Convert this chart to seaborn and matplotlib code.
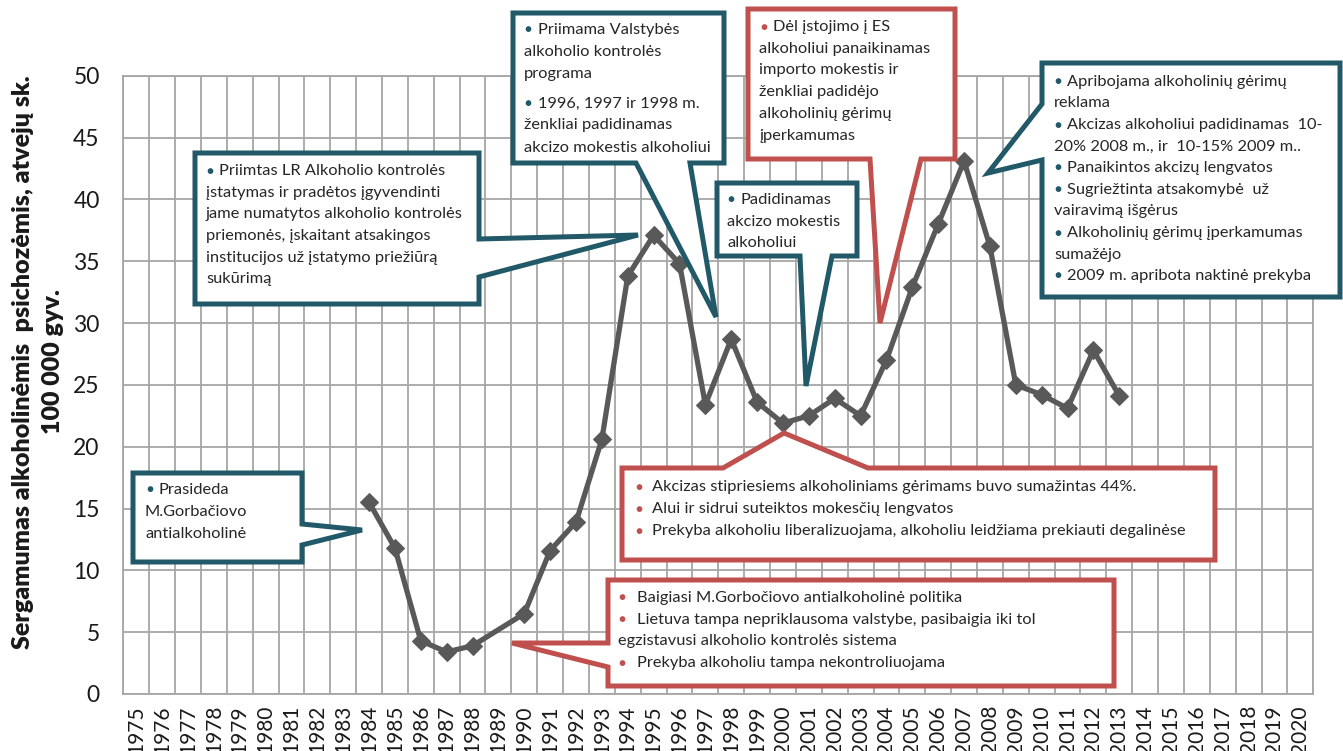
import numpy as np
import pandas as pd
import matplotlib
matplotlib.use("Agg")
import matplotlib.pyplot as plt
import seaborn as sns
from matplotlib.patches import Polygon
from matplotlib.transforms import Affine2D

# data (1989 has no point, line just joins 1988 and 1990)
years = [1984, 1985, 1986, 1987, 1988, 1990, 1991, 1992, 1993, 1994, 1995, 1996, 1997,
         1998, 1999, 2000, 2001, 2002, 2003, 2004, 2005, 2006, 2007, 2008, 2009, 2010,
         2011, 2012, 2013]
rate = [15.5, 11.8, 4.3, 3.4, 3.9, 6.5, 11.6, 13.9, 20.6, 33.8, 37.1, 34.8, 23.4,
        28.7, 23.6, 21.9, 22.5, 23.9, 22.5, 27.0, 32.9, 38.0, 43.1, 36.2, 25.0, 24.2,
        23.1, 27.8, 24.1]
axis_years = list(range(1975, 2021))
y_ticks = [0, 5, 10, 15, 20, 25, 30, 35, 40, 45, 50]
y_label = "Sergamumas alkoholinėmis  psichozėmis, atvejų sk.\n100 000 gyv."

txt_a = ["*Prasideda", "M.Gorbačiovo", "antialkoholinė"]
txt_b = ["*Priimtas LR Alkoholio kontrolės", "įstatymas ir pradėtos įgyvendinti",
         "jame numatytos alkoholio kontrolės", "priemonės, įskaitant atsakingos",
         "institucijos už įstatymo priežiūrą", "sukūrimą"]
txt_c = ["*Priimama Valstybės", "alkoholio kontrolės", "programa",
         "*1996, 1997 ir 1998 m.", "ženkliai padidinamas", "akcizo mokestis alkoholiui"]
txt_d = ["*Padidinamas", "akcizo mokestis", "alkoholiui"]
txt_e = ["*Dėl įstojimo į ES", "alkoholiui panaikinamas", "importo mokestis ir",
         "ženkliai padidėjo", "alkoholinių gėrimų", "įperkamumas"]
txt_f = ["*Apribojama alkoholinių gėrimų", "reklama",
         "*Akcizas alkoholiui padidinamas  10-", "20% 2008 m., ir  10-15% 2009 m..",
         "*Panaikintos akcizų lengvatos", "*Sugriežtinta atsakomybė  už",
         "vairavimą išgėrus", "*Alkoholinių gėrimų įperkamumas", "sumažėjo",
         "*2009 m. apribota naktinė prekyba"]
txt_g = ["*Akcizas stipriesiems alkoholiniams gėrimams buvo sumažintas 44%.",
         "*Alui ir sidrui suteiktos mokesčių lengvatos",
         "*Prekyba alkoholiu liberalizuojama, alkoholiu leidžiama prekiauti degalinėse"]
txt_h = ["*Baigiasi M.Gorbočiovo antialkoholinė politika",
         "*Lietuva tampa nepriklausoma valstybe, pasibaigia iki tol",
         "egzistavusi alkoholio kontrolės sistema",
         "*Prekyba alkoholiu tampa nekontroliuojama"]

df = pd.DataFrame({"year": years, "rate": rate})

W, H = 1343, 751
sns.set_theme(style="white")
plt.rcParams["font.family"] = ["Lato", "DejaVu Sans"]

fig = plt.figure(figsize=(W / 100, H / 100), dpi=100)
ax = fig.add_axes([123.3 / W, 1 - 694 / H, 1190 / W, (694 - 75.7) / H])
px = Affine2D().scale(1 / W, -1 / H).translate(0, 1) + fig.transFigure

grid_c = "#a6a6a6"
sns.lineplot(data=df, x="year", y="rate", ax=ax, color="#595959", linewidth=3.8,
             marker="D", markersize=9, markeredgecolor="#595959", zorder=3)

ax.set_xlim(1974.5, 2020.5)
ax.set_ylim(0, 50)
ax.set_xticks(axis_years)
ax.set_xticklabels([str(y) for y in axis_years], rotation=90, fontsize=15, color="#1a1a1a")
ax.set_xticks(np.arange(1974.5, 2021, 1), minor=True)
ax.set_yticks(y_ticks)
ax.set_yticklabels([str(v) for v in y_ticks], fontsize=16.5, color="#1a1a1a")
ax.tick_params(axis="both", which="both", length=0)
ax.tick_params(axis="y", pad=17)
ax.tick_params(axis="x", pad=8)
ax.grid(which="minor", axis="x", color=grid_c, lw=1.3)
ax.grid(which="major", axis="y", color=grid_c, lw=1.3)
ax.grid(which="major", axis="x", visible=False)
for s in ax.spines.values():
    s.set_color(grid_c)
    s.set_linewidth(1.3)
ax.set_xlabel("")
ax.set_ylabel("")

fig.text(38, 362, y_label, transform=px, rotation=90, ha="center", va="center",
         multialignment="center", fontsize=18, fontweight="heavy", color="#1a1a1a",
         linespacing=1.4)

TEAL = "#215968"
RED = "#c0504d"


def callout(pts, color, lines, ys, xb, xt, xc, fs=11.8):
    poly = Polygon(pts, closed=True, transform=px, facecolor="white", edgecolor=color,
                   lw=3.6, joinstyle="miter", clip_on=False, zorder=5)
    fig.add_artist(poly)
    for line, y in zip(lines, ys):
        if line.startswith("*"):
            fig.text(xb, y + 1, "●", transform=px, fontsize=8.5, color=color,
                     ha="center", va="center", zorder=6)
            fig.text(xt, y + 5, line[1:], transform=px, fontsize=fs, color="#262626",
                     ha="left", va="baseline", zorder=6)
        else:
            fig.text(xc, y + 5, line, transform=px, fontsize=fs, color="#262626",
                     ha="left", va="baseline", zorder=6)


callout([(133, 473), (302, 473), (302, 524), (362, 530), (302, 545), (302, 562), (133, 562)],
        TEAL, txt_a, [489, 511, 533], 150, 158, 145)
callout([(195, 153), (479, 153), (479, 239), (638, 235), (479, 277), (479, 304), (195, 304)],
        TEAL, txt_b, [170, 192, 213, 235, 257, 278], 210, 219, 206)
callout([(513, 13), (724, 13), (724, 163), (690, 163), (716, 317), (636, 163), (513, 163)],
        TEAL, txt_c, [29, 51, 73, 103, 124, 147], 528, 538, 524)
callout([(717, 183), (857, 183), (857, 256), (832, 256), (806, 386), (800, 256), (717, 256)],
        TEAL, txt_d, [199, 221, 242], 731, 740, 727)
callout([(748, 9), (955, 9), (955, 159), (921, 159), (880, 323), (870, 159), (748, 159)],
        RED, txt_e, [26, 48, 69, 91, 113, 135], 764, 773, 759)
callout([(1042, 63), (1340, 63), (1340, 297), (1042, 297), (1042, 160), (988, 173), (1042, 104)],
        TEAL, txt_f, [81, 102, 124, 146, 167, 189, 210, 232, 254, 275], 1058, 1067, 1054)
callout([(622, 468), (723, 468), (784, 433), (868, 468), (1215, 468), (1215, 560), (622, 560)],
        RED, txt_g, [486, 508, 530], 639, 652, 639)
callout([(608, 580), (1114, 580), (1114, 686), (608, 686), (608, 667), (512, 643), (608, 643)],
        RED, txt_h, [597, 619, 640, 662], 622, 637, 618)

fig.savefig("out.png", dpi=100)
